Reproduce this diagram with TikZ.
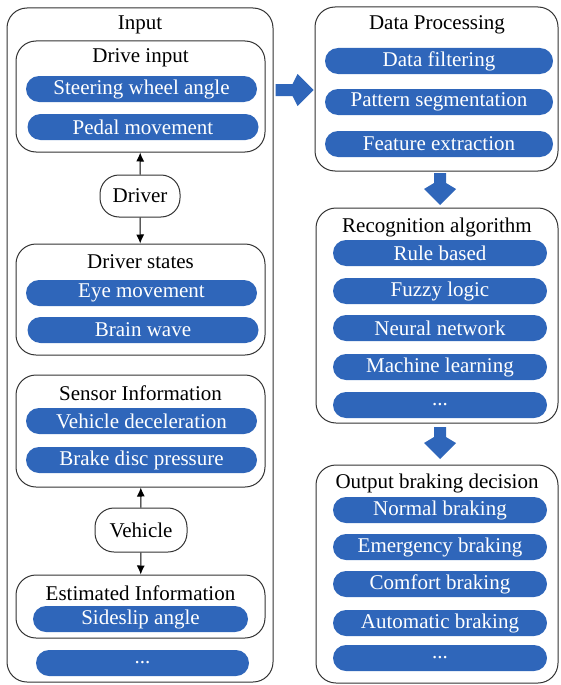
\documentclass[tikz,border=0pt]{standalone}
\usepackage{fontspec}
\setmainfont{Liberation Serif}
\usetikzlibrary{arrows.meta}
\definecolor{PillBlue}{HTML}{2F66BA}
\definecolor{FrameGray}{HTML}{333333}

\begin{document}
\begin{tikzpicture}[x=1pt, y=-1pt, font=\fontsize{21}{25}\selectfont,
  group/.style = {draw=FrameGray, line width=1pt, rounded corners=20pt, inner sep=0pt},
  actor/.style = {draw=FrameGray, line width=1pt, rounded corners=19pt, inner sep=0pt},
  pill/.style = {fill=PillBlue, text=white, rounded corners=13pt, minimum height=26pt, inner sep=0pt},
  lpill/.style = {pill, minimum width=231pt},
  rpill/.style = {pill, minimum width=214pt},
  conn/.style = {-{Latex[length=9pt,width=8pt]}, line width=1pt, draw=black},
  bigarrow/.style = {fill=PillBlue}]
      \useasboundingbox (0,0) rectangle (560,685);
      % left column
      \node[group, minimum width=266pt, minimum height=674pt] (inp) at (140,345) {};
      \node (inpt) at (140,25) {Input};
      \node[group, minimum width=249pt, minimum height=111pt] (drive) at (140.5,96.5) {};
      \node (drivet) at (140.5,58) {Drive input};
      \node[lpill] (p1) at (141.5,89) {Steering wheel angle};
      \node[lpill] (p2) at (143,127) {Pedal movement};
      \node[actor, minimum width=80pt, minimum height=42pt] (drv) at (140,196) {Driver};
      \node[group, minimum width=249pt, minimum height=111pt] (states) at (140.5,299.5) {};
      \node (statest) at (140.5,262) {Driver states};
      \node[lpill] (p3) at (141.5,293) {Eye movement};
      \node[lpill] (p4) at (143,330) {Brain wave};
      \node[group, minimum width=249pt, minimum height=112pt] (sensor) at (140.5,431) {};
      \node (sensort) at (140.5,393) {Sensor Information};
      \node[lpill] (p5) at (141.5,421) {Vehicle deceleration};
      \node[lpill] (p6) at (141.5,460) {Brake disc pressure};
      \node[actor, minimum width=92pt, minimum height=44pt] (veh) at (141,530) {Vehicle};
      \node[group, minimum width=249pt, minimum height=63pt] (estim) at (140.5,606.5) {};
      \node (estimt) at (140.5,593) {Estimated Information};
      \node[pill, minimum width=215pt] (p7) at (140.5,619) {Sideslip angle};
      \node[pill, minimum width=213pt] (p8) at (142.5,663) {...};
      \draw[conn] (drv) -- (drive);
      \draw[conn] (drv) -- (states);
      \draw[conn] (veh) -- (sensor);
      \draw[conn] (veh) -- (estim);
      % right column
      \node[group, minimum width=243pt, minimum height=164pt] (proc) at (436.5,89) {};
      \node (proct) at (437,25) {Data Processing};
      \node[pill, minimum width=228pt] (q1) at (439,61) {Data filtering};
      \node[pill, minimum width=228pt] (q2) at (439,102) {Pattern segmentation};
      \node[pill, minimum width=228pt] (q3) at (439,144) {Feature extraction};
      \node[group, minimum width=242pt, minimum height=215pt] (recog) at (437,315.5) {};
      \node (recogt) at (437,227) {Recognition algorithm};
      \node[rpill] (r1) at (440,253) {Rule based};
      \node[rpill] (r2) at (440,291) {Fuzzy logic};
      \node[rpill] (r3) at (440,328) {Neural network};
      \node[rpill] (r4) at (440,367) {Machine learning};
      \node[rpill] (r5) at (440,405) {...};
      \node[group, minimum width=242pt, minimum height=218pt] (outp) at (437,574) {};
      \node (outpt) at (437,483) {Output braking decision};
      \node[rpill] (o1) at (440,510) {Normal braking};
      \node[rpill] (o2) at (440,547) {Emergency braking};
      \node[rpill] (o3) at (440,584) {Comfort braking};
      \node[rpill] (o4) at (440,623) {Automatic braking};
      \node[rpill] (o5) at (440,658) {...};
      % block arrows between stages
      \coordinate (a1) at (inp.east |- 0,90);
      \coordinate (a2) at (440,173);
      \coordinate (a3) at (440,427);
      \fill[bigarrow, shift={(a1)}] (2,-6) -- (19,-6) -- (24,-16) -- (40,0) -- (24,16) -- (19,6) -- (2,6) -- cycle;
      \fill[bigarrow, shift={(a2)}] (-6,0) -- (6,0) -- (6,10) -- (16,16) -- (0,32) -- (-16,16) -- (-6,10) -- cycle;
      \fill[bigarrow, shift={(a3)}] (-6,0) -- (6,0) -- (6,10) -- (16,16) -- (0,32) -- (-16,16) -- (-6,10) -- cycle;
    \end{tikzpicture}
\end{document}
